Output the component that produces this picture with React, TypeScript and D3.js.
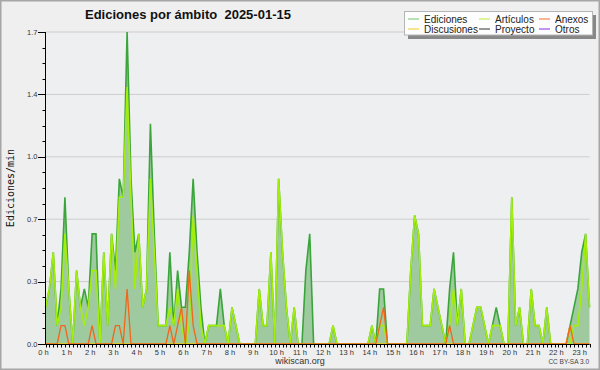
import React from 'react';
import * as d3 from 'd3';

// edits per minute, one value every 10 minutes (00:00 .. 23:20)
const ediciones = [
  0.2, 0.3, 0.5, 0.1, 0.3, 0.8, 0.3, 0, 0.4, 0.2,
  0.3, 0.2, 0.6, 0.6, 0, 0.5, 0.1, 0.6, 0.4, 0.9,
  0.8, 1.7, 0.9, 0.5, 0.6, 0.2, 0.3, 1.2, 0.6, 0.1,
  0.1, 0.1, 0.5, 0.1, 0.4, 0.2, 0.2, 0.5, 0.9, 0.5,
  0.2, 0, 0.1, 0.1, 0.1, 0.3, 0.1, 0, 0.2, 0.1,
  0, 0, 0, 0, 0, 0.3, 0.1, 0.1, 0.5, 0,
  0.9, 0.5, 0.2, 0, 0.2, 0, 0, 0.4, 0.6, 0,
  0, 0, 0, 0, 0.1, 0, 0, 0, 0, 0,
  0, 0, 0, 0, 0.1, 0, 0.3, 0.3, 0, 0,
  0, 0, 0, 0, 0.4, 0.7, 0.6, 0.1, 0.1, 0.1,
  0.3, 0.2, 0.1, 0, 0.3, 0.5, 0.1, 0.3, 0, 0,
  0.1, 0.2, 0.2, 0.1, 0, 0.1, 0.2, 0.1, 0, 0,
  0.8, 0.1, 0.2, 0, 0, 0.3, 0.1, 0.1, 0, 0.2,
  0, 0, 0, 0, 0, 0.1, 0.2, 0.3, 0.5, 0.6,
  0.2,
];

const articulos = [
  0.2, 0.3, 0.5, 0.1, 0.2, 0.6, 0.3, 0, 0.4, 0.2,
  0.1, 0.2, 0.4, 0.4, 0, 0.5, 0.1, 0.6, 0.3, 0.8,
  0.8, 1.4, 0.8, 0.3, 0.6, 0.2, 0.3, 0.9, 0.5, 0.1,
  0.1, 0.1, 0.2, 0.1, 0.3, 0.1, 0, 0.1, 0.7, 0.4,
  0.1, 0, 0.1, 0.1, 0.1, 0.1, 0.1, 0, 0.2, 0.1,
  0, 0, 0, 0, 0, 0.3, 0.1, 0.1, 0.5, 0,
  0.9, 0.5, 0.2, 0, 0.2, 0, 0, 0, 0, 0,
  0, 0, 0, 0, 0.1, 0, 0, 0, 0, 0,
  0, 0, 0, 0, 0.1, 0, 0.1, 0.1, 0, 0,
  0, 0, 0, 0, 0.4, 0.7, 0.6, 0.1, 0.1, 0.1,
  0.3, 0.2, 0.1, 0, 0.1, 0.3, 0.1, 0.3, 0, 0,
  0.1, 0.2, 0.2, 0.1, 0, 0.1, 0.1, 0.1, 0, 0,
  0.8, 0.1, 0.2, 0, 0, 0.3, 0.1, 0.1, 0, 0.2,
  0, 0, 0, 0, 0, 0, 0.1, 0.1, 0.3, 0.6,
  0.2,
];

const anexos = [
  0, 0, 0, 0, 0.1, 0.1, 0, 0, 0, 0,
  0, 0, 0.1, 0, 0, 0, 0, 0, 0.1, 0.1,
  0, 0.3, 0, 0, 0, 0, 0, 0, 0, 0,
  0, 0, 0.1, 0, 0.1, 0.2, 0, 0.4, 0.1, 0,
  0, 0, 0, 0, 0, 0, 0, 0, 0, 0,
  0, 0, 0, 0, 0, 0, 0, 0, 0, 0,
  0, 0, 0, 0, 0, 0, 0, 0, 0, 0,
  0, 0, 0, 0, 0, 0, 0, 0, 0, 0,
  0, 0, 0, 0, 0, 0, 0.1, 0.2, 0, 0,
  0, 0, 0, 0, 0, 0, 0, 0, 0, 0,
  0, 0, 0, 0, 0.1, 0, 0, 0, 0, 0,
  0, 0, 0, 0, 0, 0, 0, 0, 0, 0,
  0, 0, 0, 0, 0, 0, 0, 0, 0, 0,
  0, 0, 0, 0, 0, 0.1, 0, 0, 0, 0,
  0,
];

const discusiones = [
  0, 0, 0, 0, 0, 0, 0, 0, 0, 0,
  0, 0, 0, 0, 0, 0, 0, 0, 0, 0,
  0, 0, 0, 0, 0, 0, 0, 0, 0, 0,
  0, 0, 0, 0, 0, 0, 0, 0, 0, 0,
  0, 0, 0, 0, 0, 0, 0, 0, 0, 0,
  0, 0, 0, 0, 0, 0, 0, 0, 0, 0,
  0, 0, 0, 0, 0, 0, 0, 0, 0, 0,
  0, 0, 0, 0, 0, 0, 0, 0, 0, 0,
  0, 0, 0, 0, 0, 0, 0, 0, 0, 0,
  0, 0, 0, 0, 0, 0, 0, 0, 0, 0,
  0, 0, 0, 0, 0, 0, 0, 0, 0, 0,
  0, 0, 0, 0, 0, 0, 0, 0, 0, 0,
  0, 0, 0, 0, 0, 0, 0, 0, 0, 0,
  0, 0, 0, 0, 0, 0.1, 0, 0, 0, 0,
  0,
];

const yTicks = [0, 0.34, 0.68, 1.02, 1.36, 1.7];
const yTickLabels = ['0.0', '0.3', '0.7', '1.0', '1.4', '1.7'];
const hourLabels = [
  '0 h', '1 h', '2 h', '3 h', '4 h', '5 h', '6 h', '7 h', '8 h', '9 h', '10 h', '11 h',
  '12 h', '13 h', '14 h', '15 h', '16 h', '17 h', '18 h', '19 h', '20 h', '21 h', '22 h', '23 h',
];

const legendNames = ['Ediciones', 'Artículos', 'Anexos', 'Discusiones', 'Proyecto', 'Otros'];
const legendColors = ['#86cf86', '#c9ef5c', '#f0874a', '#f4d24c', '#555555', '#9a52e8'];

const font = 'Liberation Sans, Arial, sans-serif';

export default function App() {
  const x = d3.scaleLinear().domain([0, ediciones.length - 1]).range([45.5, 589.5]);
  const y = d3.scaleLinear().domain([0, 1.7]).range([344, 32]);

  const line = d3.line<number>().x((_, i) => x(i)).y(d => y(d));
  const area = d3.area<number>().x((_, i) => x(i)).y0(y(0)).y1(d => y(d));

  const minorY = d3.range(0, 21).map(k => (k * 1.7) / 20);
  const minorX = d3.range(0, ediciones.length);

  return (
    <div>
      <style>{'body{margin:0}'}</style>
      <svg width={600} height={370} style={{ display: 'block' }}>
        <rect x={0} y={0} width={600} height={370} fill="#efefef" />
        <rect x={0.75} y={0.75} width={598.5} height={368.5} fill="none" stroke="#a6a6a6" strokeWidth={1.5} />

        {/* plot background + grid */}
        <rect x={x(0)} y={y(1.7)} width={x(140) - x(0)} height={y(0) - y(1.7)} fill="#eeeff1" />
        {yTicks.slice(1).map(t => (
          <line key={t} x1={x(0)} x2={x(140)} y1={y(t)} y2={y(t)} stroke="#cdcdcd" strokeWidth={1} />
        ))}

        {/* series */}
        <path d={area(ediciones) || ''} fill="#9fca9f" />
        <path d={line(ediciones) || ''} fill="none" stroke="#3aa53a" strokeWidth={1.6} />
        <path d={line(discusiones) || ''} fill="none" stroke="#f2c300" strokeWidth={1.3} />
        <path d={line(articulos) || ''} fill="none" stroke="#a3ee0a" strokeWidth={1.6} />
        <path d={line(anexos) || ''} fill="none" stroke="#f0661c" strokeWidth={1.3} />

        {/* y axis */}
        <line x1={45.5} x2={45.5} y1={y(1.7)} y2={y(0)} stroke="#000" />
        {minorY.map((t, k) => (
          <line key={k} x1={42.5} x2={45.5} y1={Math.round(y(t)) + 0.5} y2={Math.round(y(t)) + 0.5} stroke="#000" />
        ))}
        {yTicks.map((t, k) => (
          <g key={t}>
            <line x1={38} x2={45.5} y1={Math.round(y(t)) + 0.5} y2={Math.round(y(t)) + 0.5} stroke="#000" />
            <text x={37.5} y={y(t)} dy="0.35em" textAnchor="end" fontFamily={font} fontSize={7.5} fill="#333">
              {yTickLabels[k]}
            </text>
          </g>
        ))}

        {/* x axis */}
        <line x1={x(0)} x2={x(140)} y1={344.5} y2={344.5} stroke="#000" />
        {minorX.map(i => (
          <line key={i} x1={Math.round(x(i)) + 0.5} x2={Math.round(x(i)) + 0.5} y1={344} y2={347.5} stroke="#000" />
        ))}
        {hourLabels.map((h, k) => (
          <text key={h} x={x(k * 6) - 2} y={354.5} textAnchor="middle" fontFamily={font} fontSize={7.5} fill="#333">
            {h}
          </text>
        ))}

        {/* titles */}
        <text x={85} y={18.5} fontFamily={font} fontWeight="bold" fontSize={13} fill="#111">
          Ediciones por ámbito{'\u00a0\u00a0'}2025-01-15
        </text>
        <text
          transform="translate(13.5,188) rotate(-90)"
          textAnchor="middle"
          fontFamily="DejaVu Sans Mono, monospace"
          fontSize={10}
          fill="#111"
        >
          Ediciones/min
        </text>
        <text x={300} y={363.5} textAnchor="middle" fontFamily={font} fontSize={9} fill="#333">
          wikiscan.org
        </text>
        <text x={589} y={364} textAnchor="end" fontFamily={font} fontSize={6.5} fill="#444">
          CC BY-SA 3.0
        </text>

        {/* legend */}
        <rect x={408} y={15} width={188} height={24} fill="#888" />
        <rect x={404.5} y={11.5} width={188} height={23.5} fill="#fdfdfd" stroke="#b5b5b5" />
        {legendNames.map((name, k) => {
          const col = k % 3;
          const row = Math.floor(k / 3);
          const lx = [408, 479, 539][col];
          const ly = 19 + row * 10;
          return (
            <g key={name}>
              <line x1={lx} x2={lx + 11} y1={ly} y2={ly} stroke={legendColors[k]} strokeWidth={1.2} />
              <text x={lx + 16} y={ly + 3.6} fontFamily={font} fontSize={10} fill="#222">
                {name}
              </text>
            </g>
          );
        })}
      </svg>
    </div>
  );
}
